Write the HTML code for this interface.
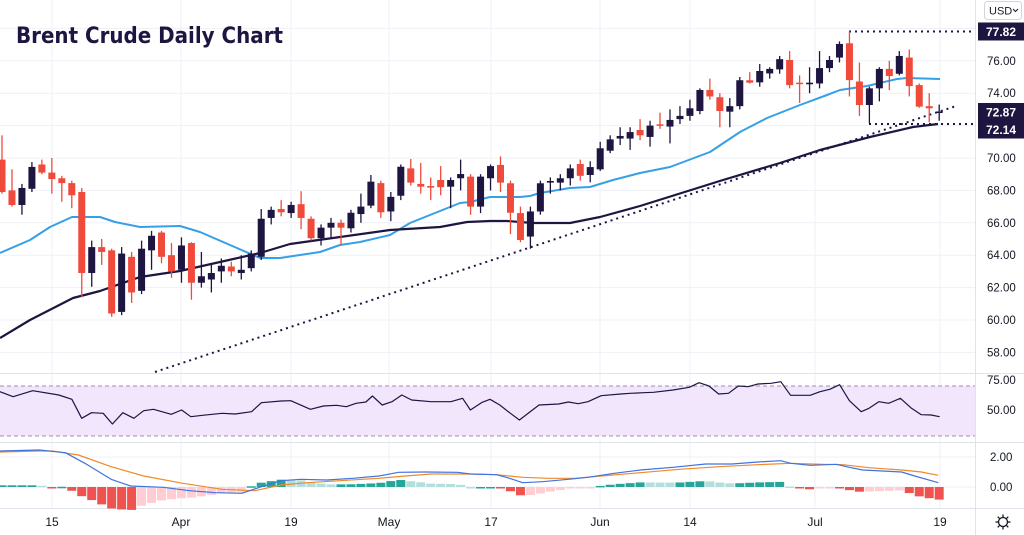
<!DOCTYPE html>
<html><head><meta charset="utf-8">
<style>
html,body{margin:0;padding:0;background:#fff;}
svg{display:block;font-family:"Liberation Sans",sans-serif;}
</style></head>
<body>
<svg id="c" width="1024" height="535" viewBox="0 0 1024 535" xmlns="http://www.w3.org/2000/svg"></svg>
<script>
const S=document.getElementById('c');let h='';
const py=p=>158-(p-70)*16.2;
const DK='#1e1541',RD='#f04a3b',BL='#36a0e6';
[52,181,291,389,491,600,690,815,940].forEach(x=>{h+=`<line x1="${x}" y1="0" x2="${x}" y2="508" stroke="#eef1f7"/>`;});
[76,74,72,70,68,66,64,62,60,58].forEach(p=>{h+=`<line x1="0" y1="${py(p)}" x2="975" y2="${py(p)}" stroke="#eef1f7"/>`;});
h+=`<line x1="0" y1="${py(78)}" x2="975" y2="${py(78)}" stroke="#eef1f7"/>`;
[457,487].forEach(y=>h+=`<line x1="0" y1="${y}" x2="975" y2="${y}" stroke="#eef1f7"/>`);
h+=`<line x1="0" y1="373.5" x2="1024" y2="373.5" stroke="#e0e3eb"/><line x1="0" y1="442.5" x2="1024" y2="442.5" stroke="#e0e3eb"/><line x1="0" y1="508.5" x2="1024" y2="508.5" stroke="#e0e3eb"/><line x1="975.5" y1="0" x2="975.5" y2="535" stroke="#e0e3eb"/>`;
h+=`<rect x="0" y="386" width="975" height="50" fill="#f2e6fd"/>`;
h+=`<line x1="0" y1="386" x2="975" y2="386" stroke="#a08cb0" stroke-dasharray="4,3"/><line x1="0" y1="436" x2="975" y2="436" stroke="#a08cb0" stroke-dasharray="4,3"/>`;
h+=`<line x1="155" y1="372" x2="956" y2="106" stroke="${DK}" stroke-width="2" stroke-dasharray="2,4"/>`;
h+=`<line x1="849" y1="31.5" x2="975" y2="31.5" stroke="${DK}" stroke-width="2" stroke-dasharray="2,4"/>`;
h+=`<line x1="869" y1="124" x2="975" y2="124" stroke="${DK}" stroke-width="2" stroke-dasharray="2,4"/>`;
const blue=[[0,253],[30,240],[50,227],[72,217],[100,217],[115,222],[140,227],[180,226],[200,232],[230,245],[260,258],[280,258],[300,255],[320,252],[340,245],[360,242],[390,235],[410,223],[460,203],[470,202],[490,197],[520,197],[530,196],[540,193],[570,188],[590,187],[613,180],[640,173],[670,167],[710,152],[740,132],[767,118],[800,105],[827,95],[840,90],[867,86],[897,79],[907,78],[940,79]];
const dark=[[0,338],[30,320],[73,298],[100,291],[140,277],[180,271],[220,262],[260,253],[290,244],[340,237],[390,230],[440,227],[467,222],[490,221],[507,221],[533,223],[570,223],[600,217],[640,206],[723,180],[780,163],[820,150],[870,137],[913,127],[938,124]];
const pl=(a,c,w)=>`<polyline fill="none" stroke="${c}" stroke-width="${w}" stroke-linejoin="round" points="${a.map(p=>p.join(',')).join(' ')}"/>`;
h+=pl(blue,BL,2)+pl(dark,DK,2.2);
const D=[[69.9,71.4,67.8,67.9],[68,69.3,67,67.1],[67.1,68.4,66.5,68.15],[68.1,69.75,67.9,69.45],[69.6,69.9,69,69.1],[69.1,70,67.8,68.7],[68.75,68.9,67.3,68.45],[68.45,68.6,66.9,67.7],[67.9,68.15,61.4,62.9],[62.9,64.9,62.05,64.5],[64.5,65,63.4,64.2],[64.3,64.4,60.2,60.4],[60.5,64.5,60.3,64.1],[63.9,64.2,61.05,61.7],[61.8,64.9,61.6,64.4],[64.3,65.5,63.1,65.2],[65.4,65.5,63.5,63.9],[64,64.75,62.6,63],[63.1,65.1,62.3,64.6],[64.75,64.8,61.25,62.3],[62.3,64.2,62,62.7],[62.5,63.5,61.7,62.9],[63,63.8,62.3,63.35],[63.3,63.6,62.7,63],[62.9,64,62.5,63.1],[63.2,64.3,63,64.1],[63.9,66.85,63.7,66.25],[66.3,67,65.9,66.8],[66.85,67.4,66.4,66.65],[66.6,67.3,66.3,67.1],[67.15,67.95,65.6,66.3],[66.25,66.4,64.9,65.05],[65.05,65.9,64.6,65.7],[65.7,66.3,65.1,66],[66,66.2,64.6,65.7],[65.66,66.8,65.4,66.62],[66.54,67.8,66,67],[67.06,68.95,66.9,68.54],[68.45,68.6,66.3,66.65],[66.7,67.9,66.1,67.6],[67.67,69.6,67.4,69.46],[69.36,69.94,68.3,68.48],[68.4,69.7,67.8,68.23],[68.27,68.8,67.4,68.17],[68.64,69.5,67.7,68.2],[68.23,68.8,66.9,68.64],[68.75,69.9,68,69.01],[68.85,69,66.5,67],[67,69,66.6,68.85],[68.75,69.6,68,69.5],[69.57,70.1,67.9,68.48],[68.44,68.6,65.3,66.62],[66.6,67,64.8,64.94],[65.15,67,64.4,66.7],[66.7,68.6,66.5,68.44],[68.48,68.8,67.8,68.58],[68.48,69,68,68.75],[68.75,69.6,68.3,69.36],[69.63,69.9,68.6,68.9],[68.95,69.8,68.5,69.44],[69.3,71,69.2,70.6],[70.45,71.4,70.3,71.15],[71.2,71.9,70.8,71.36],[71.2,71.9,70.5,71.6],[71.73,72.4,71.1,71.4],[71.3,72.3,70.7,72],[72.08,72.8,71.8,72],[71.94,73,70.9,72.35],[72.4,73.2,72.1,72.6],[72.6,73.6,72.3,73.07],[72.9,74.3,72.7,74.2],[74.2,74.9,73.6,73.8],[73.75,74,71.9,72.9],[72.86,73.7,71.9,73.2],[73.2,75,73,74.8],[74.8,75.3,74.6,74.65],[74.67,75.8,74.4,75.37],[75.22,75.6,74.9,75.5],[75.47,76.3,75.2,76.1],[76.05,76.6,74.3,74.5],[74.65,75.1,73.4,74.6],[74.55,75.6,74,74.65],[74.6,76.6,74.3,75.55],[75.55,76.3,75.3,76.05],[76.2,77.2,75.9,77.04],[77.08,77.82,73.8,74.81],[74.72,75.9,72.6,73.27],[73.27,74.4,72.14,74.3],[74.3,75.6,73.5,75.5],[75.5,76,74.2,75.06],[75.2,76.6,75.1,76.3],[76.2,76.7,73.8,74.44],[74.5,74.6,73.1,73.17],[73.2,74,72.2,73.07],[72.8,73.3,72.3,72.87]];
const X=i=>2+9.97*i;
D.forEach((d,i)=>{const [o,hi,lo,c]=d;const col=c>=o?DK:RD;const x=X(i);
h+=`<line x1="${x}" y1="${py(hi)}" x2="${x}" y2="${py(lo)}" stroke="${col}" stroke-width="1.3"/>`;
let t=py(Math.max(o,c)),b=py(Math.min(o,c));if(b-t<1.5){b=t+1.5;}
h+=`<rect x="${x-3.5}" y="${t}" width="7" height="${b-t}" fill="${col}"/>`;});
const r=[[0,65],[20,80],[50,62],[90,75],[110,88],[125,145],[140,128],[158,130],[172,162],[188,128],[205,145],[220,122],[235,118],[262,133],[278,120],[292,140],[310,136],[340,130],[360,132],[385,125],[400,98],[430,93],[445,92],[475,118],[495,108],[515,106],[530,110],[545,100],[560,96],[570,78],[585,105],[600,95],[615,75],[630,90],[660,95],[690,95],[708,85],[720,120],[738,97],[750,88],[765,105],[780,128],[795,150],[825,105],[855,102],[870,96],[885,101],[900,95],[920,77],[950,72],[965,70],[985,68],[1000,67],[1030,60],[1055,52],[1070,38],[1085,48],[1100,72],[1115,70],[1130,48],[1145,50],[1160,42],[1180,40],[1195,35],[1210,76],[1240,76],[1255,65],[1270,58],[1285,44],[1300,92],[1318,125],[1330,115],[1345,95],[1360,100],[1378,85],[1395,115],[1410,134],[1425,135],[1438,140]];
const cv=a=>a.map(p=>[+(p[0]/1.5305).toFixed(1),+(370+p[1]/3).toFixed(1)]);
h+=pl(cv(r),DK,1.2);
const mb=cv([[0,243],[60,240],[100,248],[130,280],[170,328],[200,348],[250,352],[290,362],[330,368],[370,370],[400,350],[430,332],[460,328],[500,330],[540,325],[580,318],[610,307],[650,306],[700,307],[720,312],[760,314],[780,325],[800,338],[830,335],[870,328],[900,322],[940,310],[980,300],[1030,292],[1080,282],[1120,282],[1160,276],[1195,272],[1210,280],[1240,286],[1280,283],[1300,292],[1320,300],[1380,306],[1400,318],[1436,338]]);
const mo=cv([[0,246],[60,243],[80,243],[120,255],[170,290],[220,318],[280,340],[340,358],[390,362],[430,345],[470,338],[520,332],[580,325],[620,318],[660,312],[720,312],[760,314],[800,322],[840,325],[880,325],[920,318],[980,308],[1040,298],[1100,290],[1160,284],[1210,280],[1260,283],[1290,284],[1330,293],[1380,300],[1410,306],[1436,316]]);
const ip=(a,x)=>{if(x<=a[0][0])return a[0][1];for(let k=1;k<a.length;k++){if(x<=a[k][0]){const t=(x-a[k-1][0])/(a[k][0]-a[k-1][0]);return a[k-1][1]+t*(a[k][1]-a[k-1][1]);}}return a[a.length-1][1];};
let prev=0;
for(let i=0;i<D.length;i++){const x=X(i);const v=(ip(mo,x)-ip(mb,x))*1.7;let col;
if(v>=0)col=v>=prev?'#26a69a':'#b2dfdb';else col=v<prev?'#ef5350':'#ffcdd2';prev=v;
const y0=487,y1=487-v;h+=`<rect x="${x-4.5}" y="${Math.min(y0,y1)}" width="9" height="${Math.max(1.5,Math.abs(v))}" fill="${col}"/>`;}
h+=pl(mo,'#f0892a',1.2)+pl(mb,'#3f73e0',1.2);
h+=`<text x="16" y="43" font-family="DejaVu Sans,sans-serif" font-weight="bold" font-size="22" fill="${DK}" textLength="267" lengthAdjust="spacingAndGlyphs">Brent Crude Daily Chart</text>`;
[[76,'76.00'],[74,'74.00'],[70,'70.00'],[68,'68.00'],[66,'66.00'],[64,'64.00'],[62,'62.00'],[60,'60.00'],[58,'58.00']].forEach(([p,t])=>h+=`<text x="987" y="${py(p)+4}" font-size="11.5" fill="#131722">${t}</text>`);
[[380,'75.00'],[410,'50.00'],[457,'2.00'],[487,'0.00']].forEach(([y,t])=>h+=`<text x="${t.length>4?987:990}" y="${y+4}" font-size="11.5" fill="#131722">${t}</text>`);
[[31.5,'77.82'],[112,'72.87'],[129.5,'72.14']].forEach(([y,t])=>{h+=`<rect x="978" y="${y-9}" width="46" height="18" fill="${DK}"/><text x="986" y="${y+4.5}" font-size="12" font-weight="bold" fill="#fff">${t}</text>`;});
h+=`<rect x="984.5" y="1.5" width="37" height="18" rx="3" fill="#fff" stroke="#d1d4dc"/><text x="989" y="14.5" font-size="11" fill="#131722">USD</text><path d="M1013 9 l2.5 2.5 l2.5 -2.5" fill="none" stroke="#131722"/>`;
[[52,'15'],[181,'Apr'],[291,'19'],[389,'May'],[491,'17'],[600,'Jun'],[690,'14'],[815,'Jul'],[940,'19']].forEach(([x,t])=>h+=`<text x="${x}" y="526" font-size="12" fill="#131722" text-anchor="middle">${t}</text>`);
h+=`<circle cx="1003" cy="522" r="4.5" fill="none" stroke="#131722" stroke-width="1.3"/>`;
for(let a=0;a<8;a++){const an=a*Math.PI/4;h+=`<line x1="${1003+5*Math.cos(an)}" y1="${522+5*Math.sin(an)}" x2="${1003+7.5*Math.cos(an)}" y2="${522+7.5*Math.sin(an)}" stroke="#131722" stroke-width="1.3"/>`;}
S.innerHTML=h;
</script>
</body></html>
